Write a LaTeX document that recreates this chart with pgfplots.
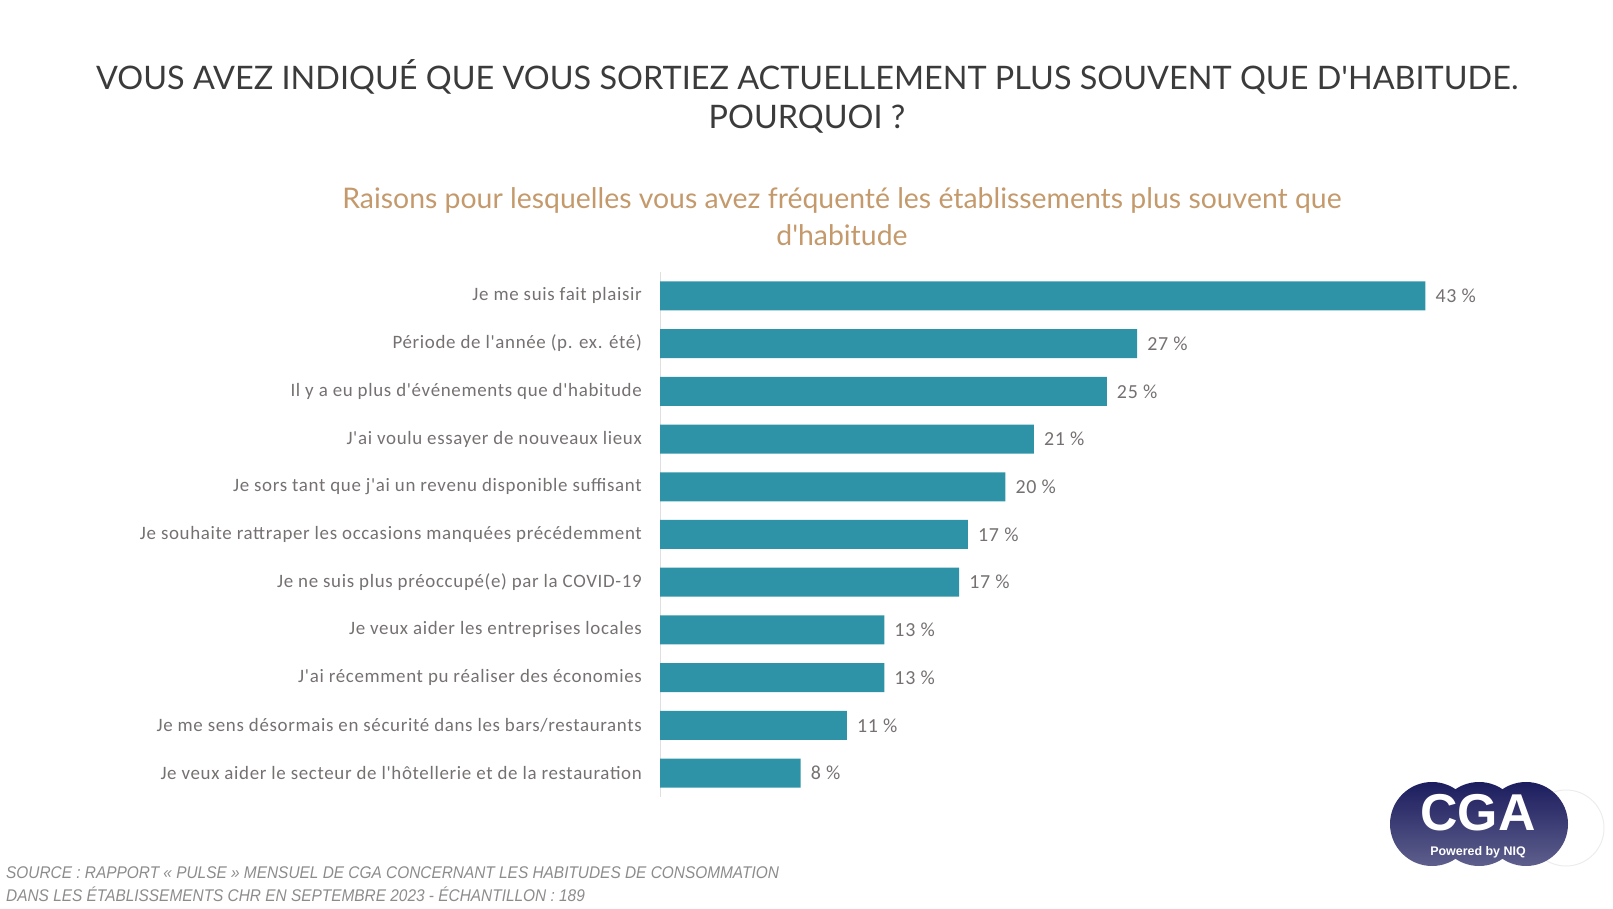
\documentclass[border=0pt]{standalone}
\usepackage{pgfplots}
\pgfplotsset{compat=1.18}
\usepackage{pgfplotstable}
\usepackage{fontspec}
\setmainfont{Carlito}
\newfontfamily\labfont[LetterSpace=3.5]{Carlito}
\newfontfamily\titlefont{Lato}
\newfontfamily\footfont[FakeStretch=0.91]{Liberation Sans}
\newfontfamily\logofont{Liberation Sans}
\definecolor{barc}{HTML}{2F93A8}
\definecolor{labc}{HTML}{767171}
\definecolor{ttlc}{HTML}{3B3B3B}
\definecolor{subc}{HTML}{C49A6C}
\definecolor{navy}{HTML}{1C1D5E}
\definecolor{navyl}{HTML}{5E5F8C}
\definecolor{footc}{HTML}{8C8C8C}

\pgfplotstableread{
y val lab
10 43.0 43
9 26.8 27
8 25.1 25
7 21.0 21
6 19.4 20
5 17.3 17
4 16.8 17
3 12.6 13
2 12.6 13
1 10.5 11
0 7.9 8
}\datatab

\begin{document}
\begin{tikzpicture}[x=1bp,y=1bp]
\path[use as bounding box] (0,0) rectangle (1613,908);
% titles
\node[font=\titlefont\fontsize{32.5}{39}\selectfont, text=ttlc, align=center] at (807,812)
  {VOUS AVEZ INDIQUÉ QUE VOUS SORTIEZ ACTUELLEMENT PLUS SOUVENT QUE D'HABITUDE.\\POURQUOI ?};
\node[font=\titlefont\fontsize{28.5}{37}\selectfont, text=subc, align=center] at (842,691)
  {Raisons pour lesquelles vous avez fréquenté les établissements plus souvent que\\d'habitude};
% footer
\node[font=\footfont\itshape\fontsize{17}{21}\selectfont, text=footc, anchor=west, inner sep=0pt] at (6,35)
  {SOURCE : RAPPORT « PULSE » MENSUEL DE CGA CONCERNANT LES HABITUDES DE CONSOMMATION};
\node[font=\footfont\itshape\fontsize{17}{21}\selectfont, text=footc, anchor=west, inner sep=0pt] at (6,14)
  {DANS LES ÉTABLISSEMENTS CHR EN SEPTEMBRE 2023 - ÉCHANTILLON : 189};
% logo
\draw[gray!15, line width=1bp] (1566,80) circle (38);
\shade[top color=navy, bottom color=navyl] (1479,84) circle (42);
\shade[top color=navy, bottom color=navyl] (1432,84) circle (42);
\shade[top color=navy, bottom color=navyl] (1526,84) circle (42);
\node[font=\logofont\bfseries\fontsize{52}{52}\selectfont, text=white] at (1478,95) {CGA};
\node[font=\logofont\bfseries\fontsize{12.5}{12}\selectfont, text=white] at (1478,56) {Powered by NIQ};

\begin{axis}[
  at={(660bp,111bp)}, anchor=south west,
  scale only axis, width=890bp, height=525bp,
  xmin=0, xmax=50, ymin=-0.5, ymax=10.5,
  hide x axis,
  axis y line*=left,
  y axis line style={draw=gray!25, line width=1bp, -},
  major tick length=0pt,
  ytick={0,...,10},
  yticklabels={
    Je veux aider le secteur de l'hôtellerie et de la restauration,
    Je me sens désormais en sécurité dans les bars/restaurants,
    J'ai récemment pu réaliser des économies,
    Je veux aider les entreprises locales,
    Je ne suis plus préoccupé(e) par la COVID-19,
    Je souhaite rattraper les occasions manquées précédemment,
    Je sors tant que j'ai un revenu disponible suffisant,
    J'ai voulu essayer de nouveaux lieux,
    Il y a eu plus d'événements que d'habitude,
    Période de l'année (p. ex. été),
    Je me suis fait plaisir},
  yticklabel style={font=\labfont\fontsize{19}{20}\selectfont, text=labc, inner sep=0pt, xshift=-18bp},
  xbar, bar width=29bp,
  point meta=explicit symbolic,
  nodes near coords={\pgfplotspointmeta\ \%},
  nodes near coords style={font=\labfont\fontsize{20}{20}\selectfont, text=labc, anchor=west, inner sep=0pt, xshift=10bp},
  clip=false,
]
\addplot[fill=barc, draw=none] table[x=val, y=y, meta=lab] {\datatab};
\end{axis}
\end{tikzpicture}
\end{document}
